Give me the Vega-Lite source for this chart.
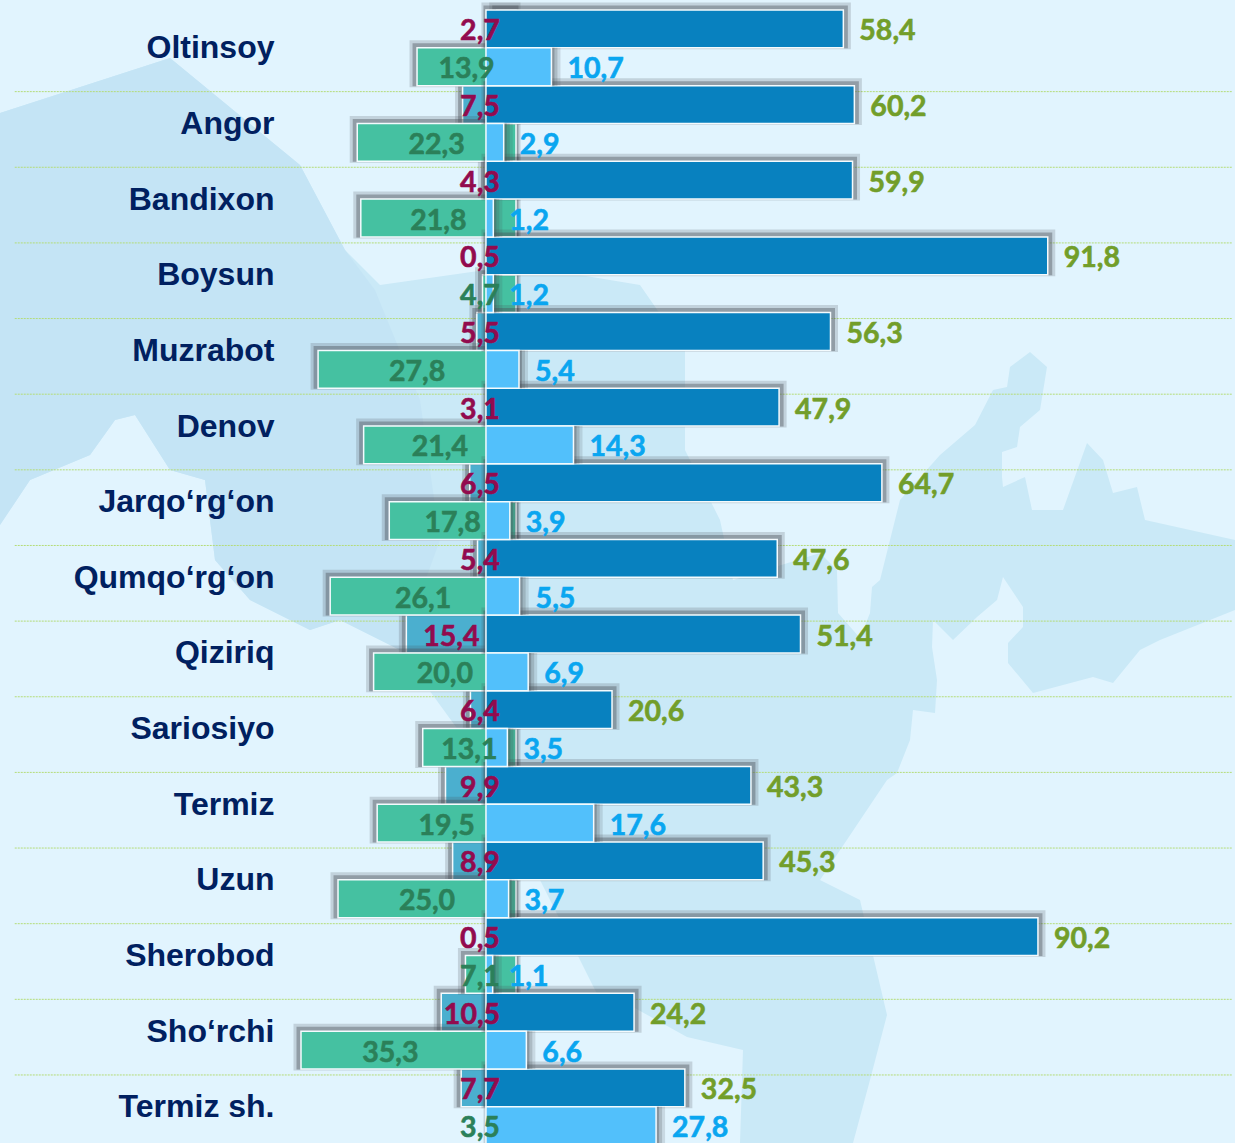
{"$schema":"https://vega.github.io/schema/vega-lite/v6.json","width":1235,"height":1143,"padding":0,"autosize":{"type":"none"},"background":"#E1F4FE","config":{"view":{"stroke":null}},
"datasets":{"bars":[
{"name":"Oltinsoy","series":"dark","row":"top","value":58.4},{"name":"Oltinsoy","series":"red","row":"top","value":2.7},{"name":"Oltinsoy","series":"light","row":"bottom","value":10.7},{"name":"Oltinsoy","series":"green","row":"bottom","value":13.9},
{"name":"Angor","series":"dark","row":"top","value":60.2},{"name":"Angor","series":"red","row":"top","value":7.5},{"name":"Angor","series":"light","row":"bottom","value":2.9},{"name":"Angor","series":"green","row":"bottom","value":22.3},
{"name":"Bandixon","series":"dark","row":"top","value":59.9},{"name":"Bandixon","series":"red","row":"top","value":4.3},{"name":"Bandixon","series":"light","row":"bottom","value":1.2},{"name":"Bandixon","series":"green","row":"bottom","value":21.8},
{"name":"Boysun","series":"dark","row":"top","value":91.8},{"name":"Boysun","series":"red","row":"top","value":0.5},{"name":"Boysun","series":"light","row":"bottom","value":1.2},{"name":"Boysun","series":"green","row":"bottom","value":4.7},
{"name":"Muzrabot","series":"dark","row":"top","value":56.3},{"name":"Muzrabot","series":"red","row":"top","value":5.5},{"name":"Muzrabot","series":"light","row":"bottom","value":5.4},{"name":"Muzrabot","series":"green","row":"bottom","value":27.8},
{"name":"Denov","series":"dark","row":"top","value":47.9},{"name":"Denov","series":"red","row":"top","value":3.1},{"name":"Denov","series":"light","row":"bottom","value":14.3},{"name":"Denov","series":"green","row":"bottom","value":21.4},
{"name":"Jarqo‘rg‘on","series":"dark","row":"top","value":64.7},{"name":"Jarqo‘rg‘on","series":"red","row":"top","value":6.5},{"name":"Jarqo‘rg‘on","series":"light","row":"bottom","value":3.9},{"name":"Jarqo‘rg‘on","series":"green","row":"bottom","value":17.8},
{"name":"Qumqo‘rg‘on","series":"dark","row":"top","value":47.6},{"name":"Qumqo‘rg‘on","series":"red","row":"top","value":5.4},{"name":"Qumqo‘rg‘on","series":"light","row":"bottom","value":5.5},{"name":"Qumqo‘rg‘on","series":"green","row":"bottom","value":26.1},
{"name":"Qiziriq","series":"dark","row":"top","value":51.4},{"name":"Qiziriq","series":"red","row":"top","value":15.4},{"name":"Qiziriq","series":"light","row":"bottom","value":6.9},{"name":"Qiziriq","series":"green","row":"bottom","value":20.0},
{"name":"Sariosiyo","series":"dark","row":"top","value":20.6},{"name":"Sariosiyo","series":"red","row":"top","value":6.4},{"name":"Sariosiyo","series":"light","row":"bottom","value":3.5},{"name":"Sariosiyo","series":"green","row":"bottom","value":13.1},
{"name":"Termiz","series":"dark","row":"top","value":43.3},{"name":"Termiz","series":"red","row":"top","value":9.9},{"name":"Termiz","series":"light","row":"bottom","value":17.6},{"name":"Termiz","series":"green","row":"bottom","value":19.5},
{"name":"Uzun","series":"dark","row":"top","value":45.3},{"name":"Uzun","series":"red","row":"top","value":8.9},{"name":"Uzun","series":"light","row":"bottom","value":3.7},{"name":"Uzun","series":"green","row":"bottom","value":25.0},
{"name":"Sherobod","series":"dark","row":"top","value":90.2},{"name":"Sherobod","series":"red","row":"top","value":0.5},{"name":"Sherobod","series":"light","row":"bottom","value":1.1},{"name":"Sherobod","series":"green","row":"bottom","value":7.1},
{"name":"Sho‘rchi","series":"dark","row":"top","value":24.2},{"name":"Sho‘rchi","series":"red","row":"top","value":10.5},{"name":"Sho‘rchi","series":"light","row":"bottom","value":6.6},{"name":"Sho‘rchi","series":"green","row":"bottom","value":35.3},
{"name":"Termiz sh.","series":"dark","row":"top","value":32.5},{"name":"Termiz sh.","series":"red","row":"top","value":7.7},{"name":"Termiz sh.","series":"light","row":"bottom","value":27.8},{"name":"Termiz sh.","series":"green","row":"bottom","value":3.5}
]},
"layer":[
{"data":{"values":[
{"type":"Feature","properties":{"shade":"#CAE9F7"},"geometry":{"type":"Polygon","coordinates":[[[380,285],[520,265],[640,285],[685,350],[685,450],[720,520],[733,580],[820,553],[837,570],[838,613],[860,638],[870,613],[872,587],[880,580],[900,500],[940,455],[975,425],[993,390],[1007,387],[1010,367],[1030,352],[1047,367],[1040,410],[1020,427],[1017,447],[1002,452],[1002,477],[1003,487],[1025,477],[1032,510],[1063,510],[1087,443],[1103,460],[1113,493],[1137,487],[1145,520],[1235,540],[1235,610],[1160,640],[1140,650],[1113,683],[1093,677],[1033,693],[1008,663],[1008,643],[1023,627],[1023,607],[1003,577],[997,600],[977,617],[953,640],[933,620],[932,647],[937,680],[935,713],[913,710],[910,740],[897,773],[887,780],[820,880],[860,900],[887,1015],[870,1080],[853,1143],[740,1143],[743,1050],[687,1037],[633,1007],[600,1000],[480,760],[400,650],[340,620],[310,630],[250,600],[215,560],[205,480],[170,470],[135,415],[115,420],[90,455],[30,480],[0,525],[0,113],[170,58],[300,165],[345,250],[380,285]]]}},
{"type":"Feature","properties":{"shade":"#C4E4F5"},"geometry":{"type":"Polygon","coordinates":[[[0,113],[170,58],[300,165],[345,250],[375,290],[420,400],[440,540],[400,650],[340,620],[310,630],[250,600],[215,560],[205,480],[170,470],[135,415],[115,420],[90,455],[30,480],[0,525],[0,113]]]}}
]},"projection":{"type":"identity","scale":1,"translate":[0,0]},"mark":{"type":"geoshape","strokeWidth":0},"encoding":{"fill":{"field":"properties.shade","type":"nominal","scale":null}}},
{"data":{"name":"bars"},
"resolve":{"scale":{"x":"independent","color":"independent","stroke":"independent","yOffset":"independent"}},
"encoding":{
"y":{"field":"name","type":"nominal","title":null,"sort":null,"scale":{"domain":["Oltinsoy","Angor","Bandixon","Boysun","Muzrabot","Denov","Jarqo‘rg‘on","Qumqo‘rg‘on","Qiziriq","Sariosiyo","Termiz","Uzun","Sherobod","Sho‘rchi","Termiz sh."],"range":[10,1144.6],"paddingInner":0,"paddingOuter":0},"axis":{"zindex":2,"domain":false,"ticks":false,"grid":false,"title":null,"labelPadding":-274,"labelAlign":"right","labelFont":"Liberation Sans","labelFontWeight":"bold","labelFontSize":32,"labelOffset":0.5,"labelColor":"#002060","labelLimit":400}},
"yOffset":{"field":"row","type":"nominal","sort":null,"scale":{"domain":["top","bottom"],"range":[0,75.64],"paddingInner":0,"paddingOuter":0}}
},
"layer":[
{"transform":[{"filter":"datum.series==='dark'"},{"filter":"datum.name!=='Termiz sh.'"}],"mark":{"type":"rule","stroke":"#B4DC78","strokeWidth":1,"strokeDash":[2,1],"yOffset":6},"encoding":{"yOffset":null,"y":{"field":"name","type":"nominal","bandPosition":1},"x":{"datum":-77,"type":"quantitative","scale":{"domain":[-79.41,122.4],"range":[0,1235]},"axis":null},"x2":{"datum":122}}},

{"transform":[{"filter":"datum.series==='red'"}],"mark":{"type":"bar","fill":"#4A5058","stroke":"#4A5058","strokeWidth":9,"opacity":0.2,"xOffset":-3},"encoding":{"yOffset":{"field":"row","type":"nominal","sort":null,"scale":{"domain":["top","bottom"],"range":[-3,72.64],"paddingInner":0,"paddingOuter":0}},"x":{"field":"value","type":"quantitative","stack":null,"scale":{"domain":[30.2,-101],"range":[301,1235],"clamp":true},"axis":null},"x2":{"datum":0}}},
{"transform":[{"filter":"datum.series==='red'"}],"mark":{"type":"bar","fill":"#4A5058","stroke":"#4A5058","strokeWidth":5,"opacity":0.4,"xOffset":-2},"encoding":{"yOffset":{"field":"row","type":"nominal","sort":null,"scale":{"domain":["top","bottom"],"range":[-2,73.64],"paddingInner":0,"paddingOuter":0}},"x":{"field":"value","type":"quantitative","stack":null,"scale":{"domain":[30.2,-101],"range":[301,1235],"clamp":true},"axis":null},"x2":{"datum":0}}},
{"transform":[{"filter":"datum.series==='red'"}],"mark":{"type":"bar","fill":"#4BAFCF","stroke":"#F4FBFE","strokeWidth":1.5},"encoding":{"x":{"field":"value","type":"quantitative","stack":null,"scale":{"domain":[30.2,-101],"range":[301,1235],"clamp":true},"axis":null},"x2":{"datum":0}}},

{"transform":[{"filter":"datum.series==='green'"}],"mark":{"type":"bar","fill":"#4A5058","stroke":"#4A5058","strokeWidth":9,"opacity":0.2,"xOffset":-3},"encoding":{"yOffset":{"field":"row","type":"nominal","sort":null,"scale":{"domain":["top","bottom"],"range":[-3,72.64],"paddingInner":0,"paddingOuter":0}},"x":{"field":"value","type":"quantitative","stack":null,"scale":{"domain":[30.2,-101],"range":[301,1235],"clamp":true},"axis":null},"x2":{"datum":0}}},
{"transform":[{"filter":"datum.series==='green'"}],"mark":{"type":"bar","fill":"#4A5058","stroke":"#4A5058","strokeWidth":5,"opacity":0.4,"xOffset":-2},"encoding":{"yOffset":{"field":"row","type":"nominal","sort":null,"scale":{"domain":["top","bottom"],"range":[-2,73.64],"paddingInner":0,"paddingOuter":0}},"x":{"field":"value","type":"quantitative","stack":null,"scale":{"domain":[30.2,-101],"range":[301,1235],"clamp":true},"axis":null},"x2":{"datum":0}}},
{"transform":[{"filter":"datum.series==='green'"}],"mark":{"type":"bar","fill":"#45C1A1","stroke":"#F4FBFE","strokeWidth":1.5},"encoding":{"x":{"field":"value","type":"quantitative","stack":null,"scale":{"domain":[30.2,-101],"range":[301,1235],"clamp":true},"axis":null},"x2":{"datum":0}}},

{"transform":[{"filter":"datum.series==='dark'"}],"mark":{"type":"bar","fill":"#4A5058","stroke":"#4A5058","strokeWidth":9,"opacity":0.2,"xOffset":3},"encoding":{"yOffset":{"field":"row","type":"nominal","sort":null,"scale":{"domain":["top","bottom"],"range":[-3,72.64],"paddingInner":0,"paddingOuter":0}},"x":{"field":"value","type":"quantitative","stack":null,"scale":{"domain":[-79.41,122.4],"range":[0,1235]},"axis":null}}},
{"transform":[{"filter":"datum.series==='dark'"}],"mark":{"type":"bar","fill":"#4A5058","stroke":"#4A5058","strokeWidth":5,"opacity":0.4,"xOffset":2},"encoding":{"yOffset":{"field":"row","type":"nominal","sort":null,"scale":{"domain":["top","bottom"],"range":[-2,73.64],"paddingInner":0,"paddingOuter":0}},"x":{"field":"value","type":"quantitative","stack":null,"scale":{"domain":[-79.41,122.4],"range":[0,1235]},"axis":null}}},
{"transform":[{"filter":"datum.series==='dark'"}],"mark":{"type":"bar","fill":"#0881BF","stroke":"#F4FBFE","strokeWidth":1.5},"encoding":{"x":{"field":"value","type":"quantitative","stack":null,"scale":{"domain":[-79.41,122.4],"range":[0,1235]},"axis":null}}},

{"transform":[{"filter":"datum.series==='light'"}],"mark":{"type":"bar","fill":"#4A5058","strokeWidth":0,"opacity":0.16,"xOffset":9},"encoding":{"x":{"field":"value","type":"quantitative","stack":null,"scale":{"domain":[-79.41,122.4],"range":[0,1235]},"axis":null}}},
{"transform":[{"filter":"datum.series==='light'"}],"mark":{"type":"bar","fill":"#4A5058","strokeWidth":0,"opacity":0.22,"xOffset":6},"encoding":{"x":{"field":"value","type":"quantitative","stack":null,"scale":{"domain":[-79.41,122.4],"range":[0,1235]},"axis":null}}},
{"transform":[{"filter":"datum.series==='light'"}],"mark":{"type":"bar","fill":"#4A5058","strokeWidth":0,"opacity":0.35,"xOffset":3},"encoding":{"x":{"field":"value","type":"quantitative","stack":null,"scale":{"domain":[-79.41,122.4],"range":[0,1235]},"axis":null}}},
{"transform":[{"filter":"datum.series==='light'"}],"mark":{"type":"bar","fill":"#52C0FB","stroke":"#F4FBFE","strokeWidth":1.5},"encoding":{"x":{"field":"value","type":"quantitative","stack":null,"scale":{"domain":[-79.41,122.4],"range":[0,1235]},"axis":null}}},

{"transform":[{"filter":"datum.series==='red'||datum.series==='green'"},{"calculate":"replace(format(datum.value,'.1f'),'.',',')","as":"label"},{"calculate":"datum.series==='red'&&datum.value>15?9.09:max(datum.value/2,datum.value>=10?6.18:5.06)","as":"labelAt"}],"mark":{"type":"text","font":"Lato","fontWeight":"bold","fontSize":28.5,"align":"center","baseline":"middle","dy":2.5,"strokeWidth":0.6},"encoding":{"yOffset":{"field":"row","type":"nominal","sort":null,"scale":{"type":"point","domain":["top","bottom"],"range":[0,75.64],"padding":0.5}},"text":{"field":"label"},"x":{"field":"labelAt","type":"quantitative","scale":{"domain":[30.2,-101],"range":[301,1235]},"axis":null},"color":{"field":"series","type":"nominal","legend":null,"scale":{"domain":["red","green"],"range":["#920B4E","#2B8059"]}},"stroke":{"field":"series","type":"nominal","legend":null,"scale":{"domain":["red","green"],"range":["#920B4E","#2B8059"]}}}},
{"transform":[{"filter":"datum.series==='dark'||datum.series==='light'"},{"calculate":"replace(format(datum.value,'.1f'),'.',',')","as":"label"}],"mark":{"type":"text","font":"Lato","fontWeight":"bold","fontSize":28.5,"align":"left","baseline":"middle","dx":16,"dy":2.5,"strokeWidth":0.6},"encoding":{"yOffset":{"field":"row","type":"nominal","sort":null,"scale":{"type":"point","domain":["top","bottom"],"range":[0,75.64],"padding":0.5}},"text":{"field":"label"},"x":{"field":"value","type":"quantitative","scale":{"domain":[-79.41,122.4],"range":[0,1235]},"axis":null},"color":{"field":"series","type":"nominal","legend":null,"scale":{"domain":["dark","light"],"range":["#729E2A","#0AA6F0"]}},"stroke":{"field":"series","type":"nominal","legend":null,"scale":{"domain":["dark","light"],"range":["#729E2A","#0AA6F0"]}}}}
]}
]}
